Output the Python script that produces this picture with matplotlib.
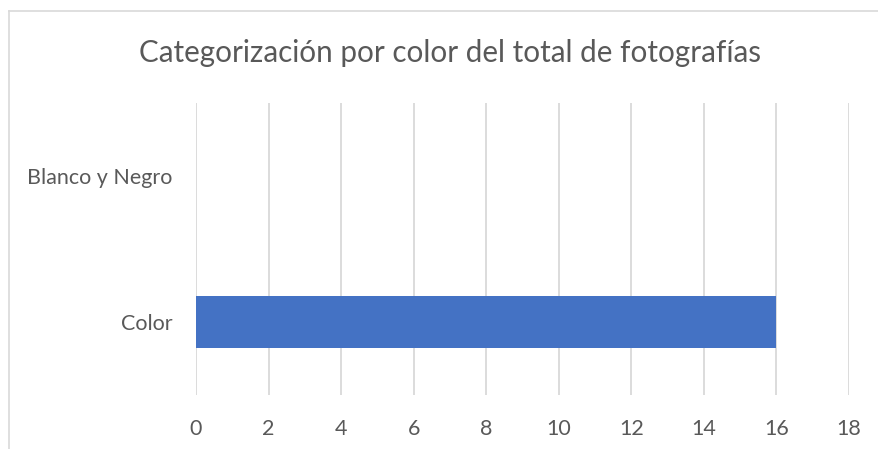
import matplotlib
matplotlib.use("Agg")
import matplotlib.pyplot as plt
from matplotlib.lines import Line2D

categories = ["Color", "Blanco y Negro"]
values = [16, 0]
xticks = [0, 2, 4, 6, 8, 10, 12, 14, 16, 18]

plt.rcParams['font.family'] = ['Lato', 'DejaVu Sans']

W, H = 879, 449
fig = plt.figure(figsize=(W / 100, H / 100), dpi=100)
ax = fig.add_axes([196 / W, 1 - 395 / H, (849 - 196) / W, (395 - 103) / H])

ax.barh(range(len(categories)), values, height=0.36, color="#4472C4", zorder=3)
ax.set_xlim(0, 18)
ax.set_ylim(-0.5, 1.5)
ax.set_xticks(xticks)
ax.set_yticks(range(len(categories)))
ax.set_yticklabels(categories)
ax.grid(axis="x", color="#D9D9D9", linewidth=1.3, zorder=0)
ax.grid(axis="y", visible=False)
for s in ax.spines.values():
    s.set_visible(False)
ax.tick_params(length=0, colors="#595959", labelsize=15.5)
ax.tick_params(axis="x", pad=17.5)
ax.tick_params(axis="y", pad=17)

fig.text(450 / W, 1 - 53 / H, "Categorización por color del total de fotografías",
         ha="center", va="center", fontsize=21.3, color="#595959")

# chart border (cropped on right and bottom)
fig.add_artist(Line2D([8.5 / W, 1], [1 - 11 / H, 1 - 11 / H], color="#D9D9D9", lw=1.2))
fig.add_artist(Line2D([8.5 / W, 8.5 / W], [0, 1 - 11 / H], color="#D9D9D9", lw=1.2))

fig.savefig("out.png", dpi=100)
